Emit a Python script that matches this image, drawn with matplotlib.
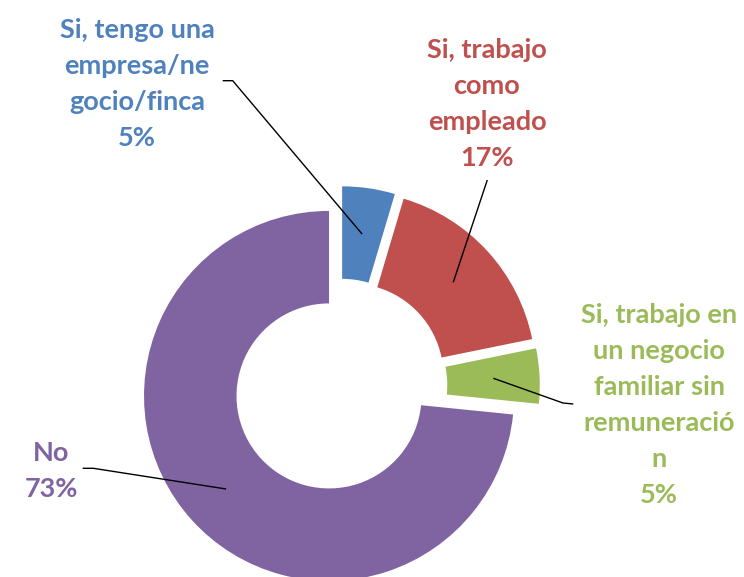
import numpy as np
import matplotlib
matplotlib.use("Agg")
import matplotlib.pyplot as plt

# ---- data ----
categories = [
    "Si, tengo una\nempresa/ne\ngocio/finca",
    "Si, trabajo\ncomo\nempleado",
    "Si, trabajo en\nun negocio\nfamiliar sin\nremuneració\nn",
    "No",
]
values = [4.6, 17.2, 4.8, 73.4]
colors = ["#4F81BD", "#C0504D", "#9BBB59", "#8064A2"]

# ---- layout ----
W, H = 744, 577
CX, CY, R = 340, 386, 185  # pixel centre and outer radius


def px(x, y):
    return ((x - CX) / R, (CY - y) / R)


fig = plt.figure(figsize=(W / 100, H / 100), dpi=100)
ax = fig.add_axes([0, 0, 1, 1])

wedges, _ = ax.pie(values, colors=colors, startangle=90, counterclock=False,
                   explode=[0.08] * 4, radius=1.0,
                   wedgeprops=dict(width=0.5, edgecolor="none", linewidth=0))

ax.set_xlim(-CX / R, (W - CX) / R)
ax.set_ylim(-(H - CY) / R, CY / R)
ax.set_aspect("equal")
ax.axis("off")

# label centres (pixels) and leader-line elbows (pixels)
label_pos = [(137, 84), (487, 104), (659, 405), (51, 471)]
elbows = [
    [(222.7, 80.7), (232.7, 80.7)],
    [(487.3, 180)],
    [(573.3, 404), (563, 403)],
    [(82.7, 468.3), (93.3, 468.3)],
]

font = dict(family=["Lato", "DejaVu Sans"], fontweight="bold", fontsize=19.5)

for w, cat, v, c, lp, el in zip(wedges, categories, values, colors, label_pos, elbows):
    txt = f"{cat}\n{round(v)}%"
    x, y = px(*lp)
    ax.text(x, y, txt, ha="center", va="center", color=c, linespacing=1.6, **font)
    mid = np.deg2rad((w.theta1 + w.theta2) / 2)
    rr = w.r - w.width / 2
    ax_ = w.center[0] + rr * np.cos(mid)
    ay_ = w.center[1] + rr * np.sin(mid)
    pts = [px(*p) for p in el] + [(ax_, ay_)]
    xs, ys = zip(*pts)
    ax.plot(xs, ys, color="black", lw=1.0, solid_capstyle="butt")

fig.savefig("out.png", dpi=100)
